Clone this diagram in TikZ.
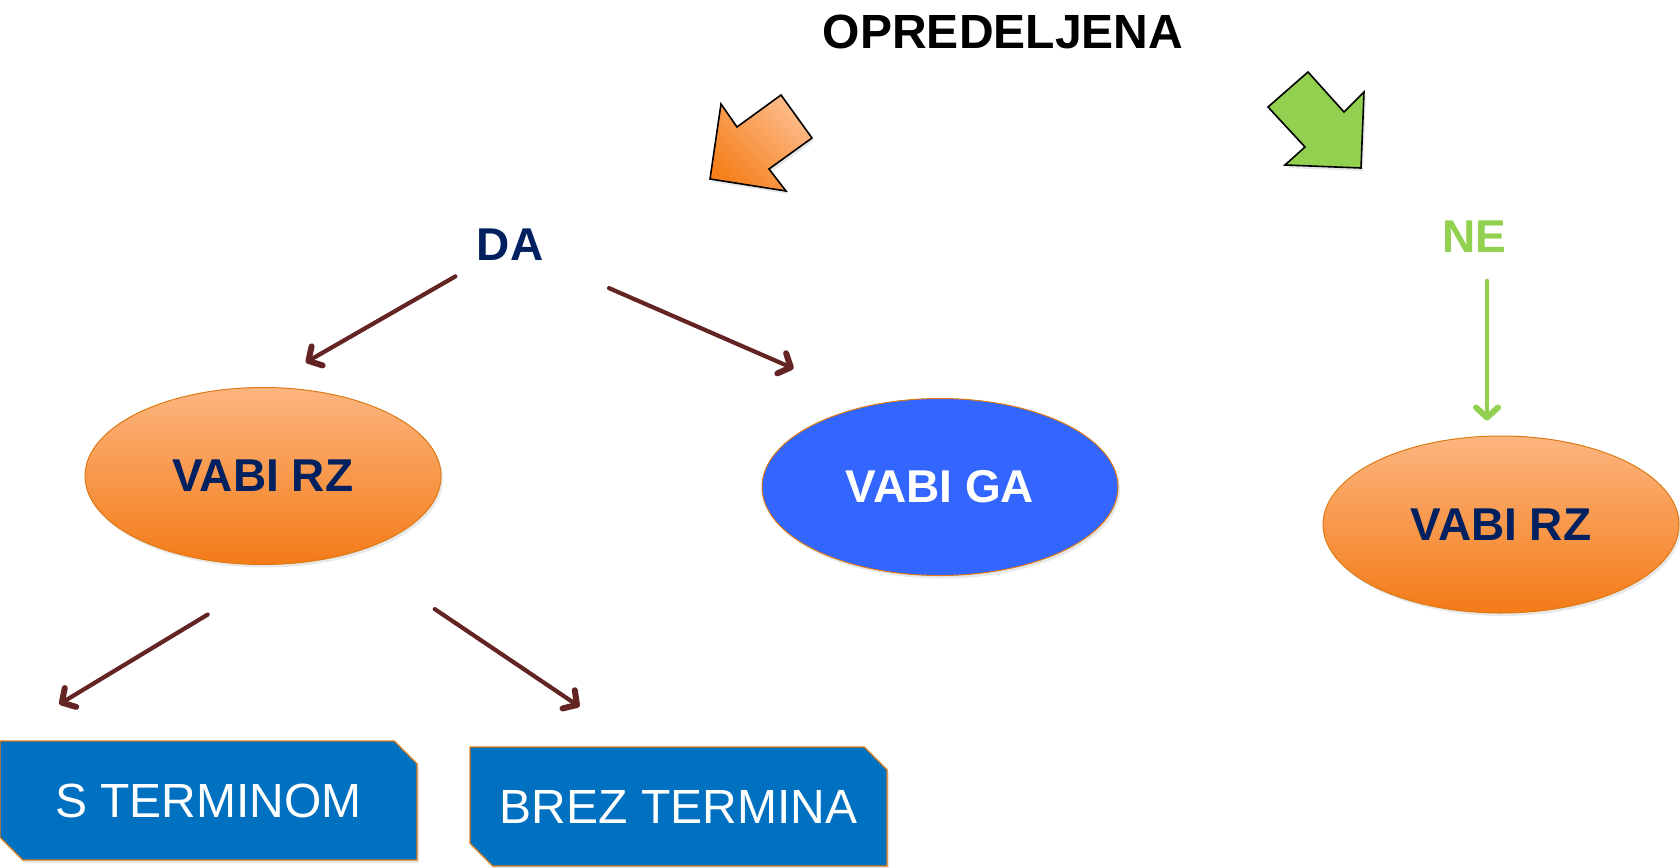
\documentclass[tikz,border=0pt]{standalone}
\usepackage{fontspec}
\setmainfont{Liberation Sans}
\usetikzlibrary{arrows.meta}
\usetikzlibrary{shapes.geometric}
\usetikzlibrary{shapes.misc}
\usetikzlibrary{shadows}

\definecolor{navytext}{HTML}{002060}
\definecolor{negreen}{HTML}{92D050}
\definecolor{connred}{HTML}{632423}
\definecolor{ellorlight}{HTML}{FCB57F}
\definecolor{ellordark}{HTML}{F47B17}
\definecolor{ellborder}{HTML}{DD7A14}
\definecolor{gablue}{HTML}{3366FF}
\definecolor{boxblue}{HTML}{0070C0}
\definecolor{arrlight}{HTML}{FDBC8C}
\definecolor{arrdark}{HTML}{F5801C}

\begin{document}
\begin{tikzpicture}[
					x=0.5pt, y=-0.5pt,
					line width=0.2mm,
					softshadow/.style={drop shadow={opacity=0.18, shadow xshift=1pt, shadow yshift=-1.5pt}},
					label/.style={inner sep=2pt, font=\bfseries\fontsize{23}{27}\selectfont},
					choice/.style={ellipse, minimum width=178pt, minimum height=88.5pt, inner sep=0pt,
						draw=ellborder, line width=0.5pt, softshadow, font=\bfseries\fontsize{23}{27}\selectfont},
					orchoice/.style={choice, top color=ellorlight, bottom color=ellordark, text=navytext},
					termbox/.style={chamfered rectangle, chamfered rectangle corners={north east, south west},
						chamfered rectangle xsep=5.7pt, chamfered rectangle ysep=5.7pt,
						minimum width=208.5pt, minimum height=59.5pt, inner sep=0pt,
						fill=boxblue, draw=ellborder, line width=0.6pt, softshadow, text=white,
						font=\fontsize{24}{28}\selectfont},
					conn/.style={draw=connred, line width=2.1pt, line cap=round,
						-{Straight Barb[length=5pt, width=11pt, line width=3pt, round]}},
					neconn/.style={draw=negreen, line width=2.2pt, line cap=round,
						-{Straight Barb[length=5pt, width=11pt, line width=3pt, round]}},
				]
					\useasboundingbox (0,0) rectangle (1680,867);

					% big block arrows
					\filldraw[draw=black, line width=0.8pt, softshadow, top color=arrlight, bottom color=arrdark, shading angle=-45]
						(710,179) -- (721,104) -- (737,127) -- (781,95) -- (812,138) -- (769,169) -- (786,191) -- cycle;
					\filldraw[draw=black, line width=0.8pt, softshadow, fill=negreen]
						(1268,107) -- (1308,72) -- (1344,112) -- (1364,92) -- (1361,168) -- (1285,165) -- (1305,147) -- cycle;

					\node (title) at (1003,32) [label, font=\bfseries\fontsize{24}{28}\selectfont] {OPREDELJENA};
					\node (da) at (510,245) [label, text=navytext] {DA};
					\node (ne) at (1474,237) [label, text=negreen] {NE};

					\node (rzl) at (263,476) [orchoice] {VABI RZ};
					\node (ga) at (940,487) [choice, fill=gablue, text=white] {VABI GA};
					\node (rzr) at (1501,524.5) [orchoice] {VABI RZ};

					\node (st) at (208.5,800.5) [termbox] {S TERMINOM};
					\node (bt) at (678.5,806.5) [termbox] {BREZ TERMINA};

					\draw[conn, shorten <=31.5pt, shorten >=24.7pt] (da.center) -- (rzl.north);
					\draw[conn, shorten <=54pt, shorten >=44.5pt] (da.center) -- (ga.128);
					\draw[neconn, shorten <=11.75pt, shorten >=7.5pt] ([xshift=6.5pt]ne.south) -- ([xshift=-7pt]rzr.north);
					\draw[conn, shorten <=49pt, shorten >=35pt] (rzl.288) -- (st.north west);
					\draw[conn, shorten <=50pt, shorten >=35.6pt] (rzl.319) -- ([xshift=-20pt]bt.north);
				\end{tikzpicture}
\end{document}
